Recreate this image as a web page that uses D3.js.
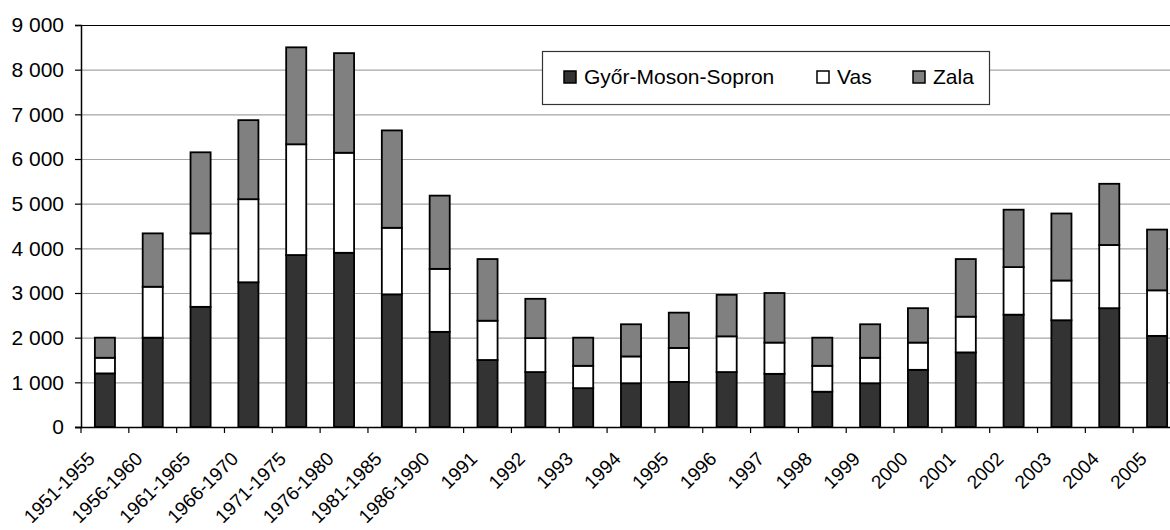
<!DOCTYPE html>
<html>
<head>
<meta charset="utf-8">
<script src="https://cdn.jsdelivr.net/npm/d3@7"></script>
<style>
  body { margin: 0; background: #fff; }
  svg { display: block; font-family: "Liberation Sans", Arial, sans-serif; }
</style>
</head>
<body>
<div id="chart"></div>
<script>
var categories = ["1951-1955", "1956-1960", "1961-1965", "1966-1970", "1971-1975", "1976-1980",
    "1981-1985", "1986-1990", "1991", "1992", "1993", "1994", "1995", "1996", "1997", "1998",
    "1999", "2000", "2001", "2002", "2003", "2004", "2005"];
var gyor = [1200, 2000, 2690, 3240, 3850, 3900, 2970, 2130, 1500, 1230, 870, 980, 1010, 1230,
    1190, 790, 980, 1280, 1670, 2515, 2390, 2660, 2040];
var vas = [350, 1140, 1645, 1860, 2480, 2240, 1490, 1410, 880, 760, 500, 600, 760, 800,
    700, 580, 570, 610, 800, 1065, 890, 1415, 1020];
var zala = [450, 1195, 1815, 1770, 2170, 2230, 2180, 1640, 1380, 880, 630, 720, 790, 930,
    1110, 630, 750, 770, 1290, 1285, 1500, 1370, 1360];
var seriesNames = ["Győr-Moson-Sopron", "Vas", "Zala"];
var seriesColors = ["#333333", "#ffffff", "#808080"];
var yTicks = [0, 1000, 2000, 3000, 4000, 5000, 6000, 7000, 8000, 9000];

(function () {
    var width = 1170, height = 530;
    var plotLeft = 81, plotTop = 25, plotBottom = 427, plotRight = 1181;
    var fontSize = "21px";

    var svg = d3.select("#chart").append("svg")
        .attr("width", width)
        .attr("height", height);

    var rows = categories.map(function (c, i) {
        return { cat: c, gyor: gyor[i], vas: vas[i], zala: zala[i] };
    });
    var layers = d3.stack().keys(["gyor", "vas", "zala"])(rows);

    var x = d3.scaleBand()
        .domain(categories)
        .range([plotLeft, plotRight])
        .paddingInner(0.58)
        .paddingOuter(0.29);

    var y = d3.scaleLinear()
        .domain([0, 9000])
        .range([plotBottom, plotTop]);

    var fmt = d3.formatLocale({ decimal: ",", thousands: " ", grouping: [3], currency: ["", ""] }).format(",d");

    // gridlines
    svg.append("g")
        .selectAll("line")
        .data(yTicks.filter(function (d) { return d > 0; }))
        .enter().append("line")
        .attr("x1", plotLeft).attr("x2", width)
        .attr("y1", function (d) { return y(d) + 0.5; })
        .attr("y2", function (d) { return y(d) + 0.5; })
        .attr("stroke", function (d) { return d == 9000 ? "#000" : "#a6a6a6"; })
        .attr("stroke-width", 1.2);

    // y axis
    var yAxis = svg.append("g")
        .attr("transform", "translate(" + plotLeft + ",0)")
        .call(d3.axisLeft(y).tickValues(yTicks).tickFormat(fmt).tickSize(6).tickPadding(11));
    yAxis.select(".domain").attr("stroke", "#000").attr("stroke-width", 1.5);
    yAxis.selectAll(".tick line").attr("stroke", "#000").attr("stroke-width", 1.2);
    yAxis.selectAll("text").attr("font-size", fontSize).attr("fill", "#000")
        .attr("font-family", "Liberation Sans, Arial, sans-serif");

    // bars
    var gap = (x.step() - x.bandwidth()) / 2;
    svg.append("g")
        .selectAll("g")
        .data(layers)
        .enter().append("g")
        .attr("fill", function (d, i) { return seriesColors[i]; })
        .selectAll("rect")
        .data(function (d) { return d; })
        .enter().append("rect")
        .attr("x", function (d) { return x(d.data.cat); })
        .attr("width", x.bandwidth())
        .attr("y", function (d) { return y(d[1]); })
        .attr("height", function (d) { return y(d[0]) - y(d[1]); })
        .attr("stroke", "#000")
        .attr("stroke-width", 1.8);

    // x axis
    svg.append("line")
        .attr("x1", plotLeft - 6).attr("x2", width)
        .attr("y1", plotBottom + 0.5).attr("y2", plotBottom + 0.5)
        .attr("stroke", "#000").attr("stroke-width", 1.5);
    svg.append("g")
        .selectAll("line")
        .data(categories)
        .enter().append("line")
        .attr("x1", function (d) { return x(d) - gap; })
        .attr("x2", function (d) { return x(d) - gap; })
        .attr("y1", plotBottom).attr("y2", plotBottom + 6)
        .attr("stroke", "#000").attr("stroke-width", 1.2);

    svg.append("g")
        .selectAll("text")
        .data(categories)
        .enter().append("text")
        .attr("transform", function (d) {
            return "translate(" + (x(d) + x.bandwidth() / 2 - 9) + "," + (plotBottom + 33) + ") rotate(-45)";
        })
        .attr("text-anchor", "end")
        .attr("font-size", "19px")
        .attr("fill", "#000")
        .text(function (d) { return d; });

    // legend
    var legend = svg.append("g");
    legend.append("rect")
        .attr("x", 542.5).attr("y", 51.5)
        .attr("width", 447).attr("height", 53)
        .attr("fill", "#fff").attr("stroke", "#333").attr("stroke-width", 1.2);
    var legendX = [564, 817, 913];
    seriesNames.forEach(function (name, i) {
        legend.append("rect")
            .attr("x", legendX[i]).attr("y", 71)
            .attr("width", 12).attr("height", 12)
            .attr("fill", seriesColors[i]).attr("stroke", "#000").attr("stroke-width", 1.5);
        legend.append("text")
            .attr("x", legendX[i] + 20).attr("y", 84)
            .attr("font-size", fontSize)
            .attr("fill", "#000")
            .text(name);
    });
})();
</script>
</body>
</html>
